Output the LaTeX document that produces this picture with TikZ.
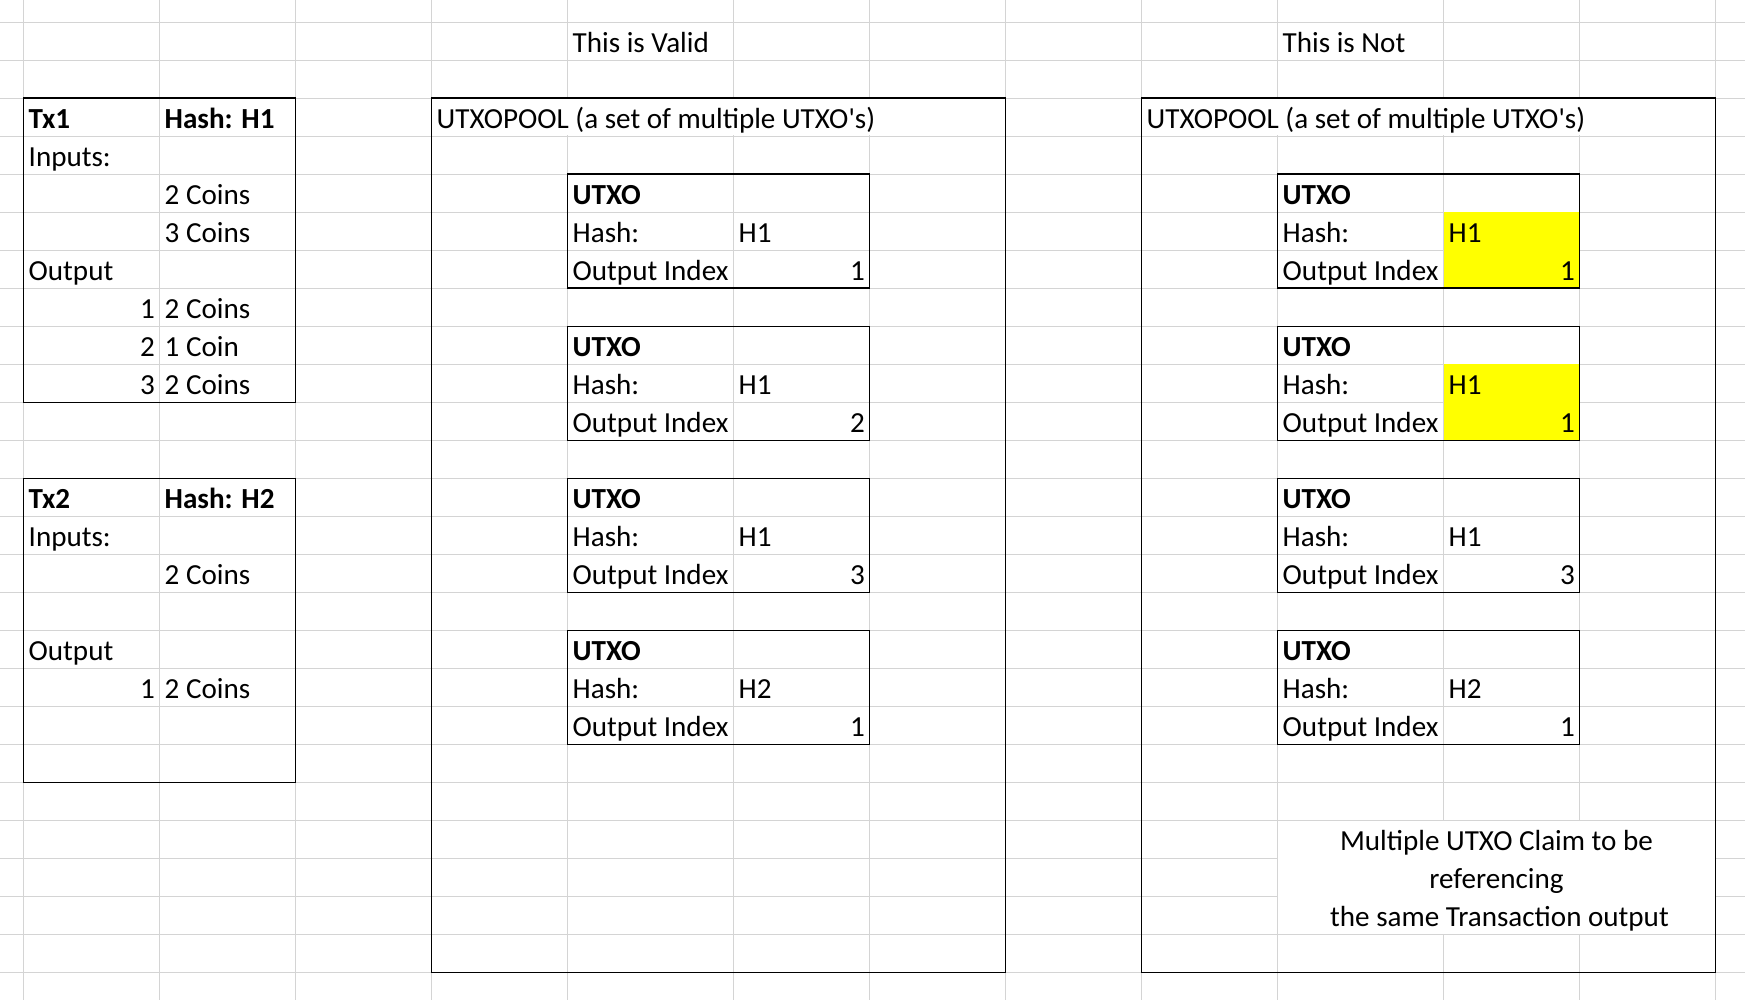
\documentclass[tikz,border=0pt]{standalone}
\usepackage{fontspec}
\newfontfamily\xlfont{Carlito}
\definecolor{gridgray}{RGB}{212,212,212}
\definecolor{xlyellow}{RGB}{255,255,0}
\newcommand\cellfont{\xlfont\fontsize{29.1pt}{35pt}\selectfont}
\begin{document}
\begin{tikzpicture}[x=1pt,y=-1pt,
  gridline/.style={draw=gridgray,line width=1.2pt},
  boxline/.style={draw=black,line width=1.6pt},
  mask/.style={fill=white,draw=none},
  hilite/.style={fill=xlyellow,draw=none},
  txtL/.style={anchor=base west,inner sep=0pt,font=\cellfont},
  txtR/.style={anchor=base east,inner sep=0pt,font=\cellfont},
  txtB/.style={anchor=base west,inner sep=0pt,font=\cellfont\bfseries},
  txtC/.style={anchor=base,inner sep=0pt,font=\cellfont}]
\useasboundingbox (0,0) rectangle (1745,1000);
\fill[white] (0,0) rectangle (1745,1000);
% spreadsheet grid
\foreach \gx in {23.5,159.5,295.5,431.5,567.5,733.5,869.5,1005.5,1141.5,1277.5,1443.5,1579.5,1715.5}
  \draw[gridline] (\gx,0) -- (\gx,1000);
\foreach \k in {0,...,25}
  \draw[gridline] (0,{22.3+38*\k}) -- (1745,{22.3+38*\k});
% gridlines hidden by overflowing titles and merged cell
\path[mask] (560,99.2) rectangle (880,135.5);
\path[mask] (1270,99.2) rectangle (1590,135.5);
\path[mask] (1278.3,821.1) rectangle (1714.7,933.5);
% yellow highlights
\path[hilite] (1443.5,212.3) rectangle (1579.5,288.3);
\path[hilite] (1443.5,364.3) rectangle (1579.5,440.3);
% transaction boxes
\draw[boxline] (23.5,98.3) rectangle (295.5,402.3);
\draw[boxline] (23.5,478.3) rectangle (295.5,782.3);
% pools
\draw[boxline] (431.5,98.3) rectangle (1005.5,972.3);
\draw[boxline] (1141.5,98.3) rectangle (1715.5,972.3);
% headings
\node[txtL] (valid) at (572.5,52.8) {This is Valid};
\node[txtL] (notvalid) at (1282.5,52.8) {This is Not};
% Tx1
\node[txtB] (tx1) at (28.5,128.8) {Tx1};
\node[txtB] (tx1hash) at (164.5,128.8) {Hash: H1};
\node[txtL] (tx1in) at (28.5,166.8) {Inputs:};
\node[txtL] (tx1ia) at (164.5,204.8) {2 Coins};
\node[txtL] (tx1ib) at (164.5,242.8) {3 Coins};
\node[txtL] (tx1out) at (28.5,280.8) {Output};
\node[txtR] (tx1n1) at (155,318.8) {1};
\node[txtL] (tx1o1) at (164.5,318.8) {2 Coins};
\node[txtR] (tx1n2) at (155,356.8) {2};
\node[txtL] (tx1o2) at (164.5,356.8) {1 Coin};
\node[txtR] (tx1n3) at (155,394.8) {3};
\node[txtL] (tx1o3) at (164.5,394.8) {2 Coins};
% Tx2
\node[txtB] (tx2) at (28.5,508.8) {Tx2};
\node[txtB] (tx2hash) at (164.5,508.8) {Hash: H2};
\node[txtL] (tx2in) at (28.5,546.8) {Inputs:};
\node[txtL] (tx2ia) at (164.5,584.8) {2 Coins};
\node[txtL] (tx2out) at (28.5,660.8) {Output};
\node[txtR] (tx2n1) at (155,698.8) {1};
\node[txtL] (tx2o1) at (164.5,698.8) {2 Coins};
% pool titles
\node[txtL] (poolA) at (436.5,128.8) {UTXOPOOL (a set of multiple UTXO's)};
\node[txtL] (poolB) at (1146.5,128.8) {UTXOPOOL (a set of multiple UTXO's)};
% UTXO boxes
\foreach \p/\bx/\by/\h/\i in {
  va/567.5/174.3/H1/1, vb/567.5/326.3/H1/2, vc/567.5/478.3/H1/3, vd/567.5/630.3/H2/1,
  na/1277.5/174.3/H1/1, nb/1277.5/326.3/H1/1, nc/1277.5/478.3/H1/3, nd/1277.5/630.3/H2/1}{
  \draw[boxline] (\bx,\by) rectangle ({\bx+302},{\by+114});
  \node[txtB] (\p-title) at ({\bx+5},{\by+30.5}) {UTXO};
  \node[txtL] (\p-hlabel) at ({\bx+5},{\by+68.5}) {Hash:};
  \node[txtL] (\p-hash) at ({\bx+171},{\by+68.5}) {\h};
  \node[txtL] (\p-ilabel) at ({\bx+5},{\by+106.5}) {Output Index};
  \node[txtR] (\p-index) at ({\bx+297.5},{\by+106.5}) {\i};
}
% note
\node[txtC] (note1) at (1496.5,850.8) {Multiple UTXO Claim to be};
\node[txtC] (note2) at (1496.5,888.8) {referencing};
\node[txtC] (note3) at (1499.5,926.8) {the same Transaction output};
\end{tikzpicture}
\end{document}
